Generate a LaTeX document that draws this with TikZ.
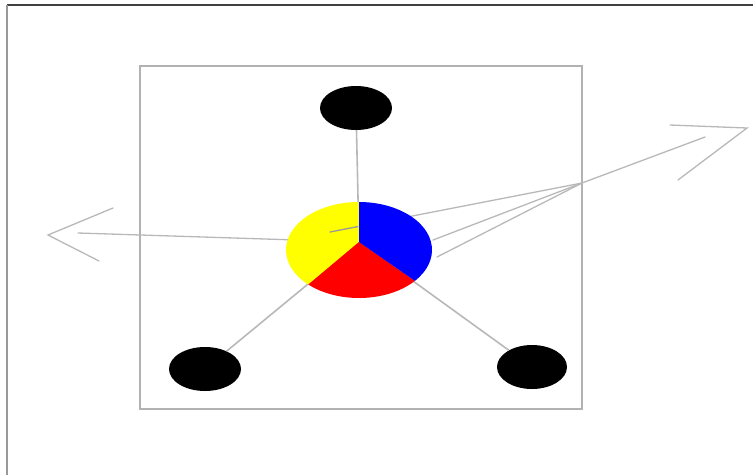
\documentclass[tikz,border=0pt]{standalone}
\usepackage{tikz}
\usetikzlibrary{calc,shapes.geometric}
\definecolor{frameline}{gray}{0.25}
\definecolor{sideline}{gray}{0.6}
\definecolor{boxline}{gray}{0.7}
\definecolor{wire}{gray}{0.72}
\definecolor{pieyellow}{RGB}{255,255,0}
\definecolor{piered}{RGB}{255,0,0}
\definecolor{pieblue}{RGB}{0,0,255}
\tikzset{
  blob/.style={ellipse,fill=black,minimum width=72pt,minimum height=44pt,
               inner sep=0pt},
  wirel/.style={draw=wire,line width=1.6pt},
  arrowl/.style={draw=wire,line width=1.3pt,line cap=round},
}

\begin{document}
\begin{tikzpicture}[x=1pt, y=-1pt]
  \useasboundingbox (0,0) rectangle (753,475);
  % The window edge that is seen at top and left.
  \coordinate (fa) at (7,5);
  \coordinate (fb) at (753,5);
  \coordinate (fc) at (7,475);
  \draw[frameline, line width=2.2pt] (fa) -- (fb);
  \draw[sideline, line width=2pt] (fa) -- (fc);
  % The square that holds it all.
  \node[draw=boxline, line width=1.8pt, minimum width=442pt,
        minimum height=343pt, inner sep=0pt] (sq) at (361,237.5) {};
  % The three black blobs.
  \node[blob] (top) at (356,108) {};
  \node[blob] (bl) at (205,369) {};
  \node[blob, minimum width=70pt] (br) at (532,367) {};
  \coordinate (hub) at (359,242);
  \coordinate (ctr) at (359,250);
  % Wires, behind the pie.
  \draw[wirel] (top) -- (hub);
  \draw[wirel] (bl) -- (hub);
  \draw[wirel] (br) -- (hub);
  % Arrow out to the left.
  \coordinate (ltail) at (78,233);
  \coordinate (ltip) at (48,235);
  \coordinate (la1) at (113,208);
  \coordinate (la2) at (99,261);
  \draw[arrowl] (ltail) -- (hub);
  \draw[arrowl] (la1) -- (ltip) -- (la2);
  % Upper wire of the right arrow starts in the pie.
  \coordinate (p1) at (330,232);
  \coordinate (meet) at (582,183);
  \draw[arrowl] (p1) -- (meet);
  % The pie.
  \fill[pieyellow] (hub) -- ($(ctr)+(270:73 and 48)$)
       arc[start angle=270, end angle=134, x radius=73, y radius=48] -- cycle;
  \fill[piered] (hub) -- ($(ctr)+(134:73 and 48)$)
       arc[start angle=134, end angle=40, x radius=73, y radius=48] -- cycle;
  \fill[pieblue] (hub) -- ($(ctr)+(40:73 and 48)$)
       arc[start angle=40, end angle=-90, x radius=73, y radius=48] -- cycle;
  \draw[arrowl, draw=gray!80] (p1) -- ($(p1)!0.11!(meet)$);
  % Arrow out to the right, three wires meet at the box edge.
  \coordinate (p2) at (433,240);
  \coordinate (p3) at (437,257);
  \coordinate (rend) at (705,137);
  \coordinate (rtip) at (747,128);
  \coordinate (ra1) at (670,125);
  \coordinate (ra2) at (678,180);
  \draw[arrowl] (p2) -- (meet);
  \draw[arrowl] (p3) -- (meet);
  \draw[arrowl] (meet) -- (rend);
  \draw[arrowl] (ra1) -- (rtip) -- (ra2);
\end{tikzpicture}
\end{document}
